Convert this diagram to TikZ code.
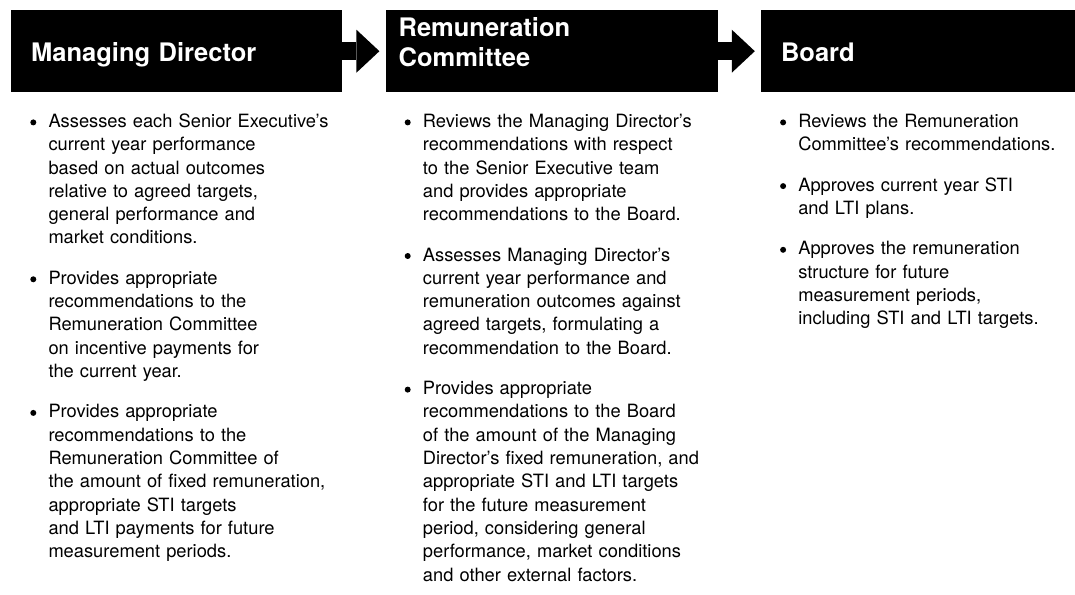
\documentclass[tikz,border=0pt]{standalone}
\usepackage{fontspec}
\setmainfont{TeX Gyre Heros}
\usetikzlibrary{positioning,arrows.meta}

\tikzset{
  head/.style={fill=black,minimum height=82pt,inner sep=0pt,anchor=north west},
  title/.style={text=white,font=\bfseries\fontsize{25.5}{30}\selectfont,text width=290pt,inner sep=0pt,anchor=base west,align=left},
  point/.style={font=\fontsize{18.3}{23.3}\selectfont,text width=300pt,align=left,inner sep=0pt,
    execute at begin node=\strut,execute at end node=\strut},
  flow/.style={line width=18pt,-{Triangle[length=23pt,width=43pt,line width=0pt]}},
}

\begin{document}
\begin{tikzpicture}[x=1pt,y=-1pt,node distance=43pt]
  \useasboundingbox (0,0) rectangle (1075,594);
  % header boxes
  \node[head,minimum width=331pt] (md)          at (11,10)     {};
  \node[head,minimum width=332pt] (rc)          [right=of md]  {};
  \node[head,minimum width=315pt] (bd)          [right=of rc]  {};
  \node[title] (md_t) at ([shift={(20,52)}]md.north west) {Managing Director};
  \node[title] (rc_t) at ([shift={(13,27)}]rc.north west) {Remuneration\\Committee};
  \node[title] (bd_t) at ([shift={(20,52)}]bd.north west) {Board};
  \draw[flow] (md.east) -- ([xshift=-6pt]rc.west);
  \draw[flow] (rc.east) -- ([xshift=-6pt]bd.west);
  % Managing Director
  \node[point,anchor=base west] (md_1) at ([shift={(37.3,35)}]md.south west)
    {Assesses each Senior Executive's\\current year performance\\based on actual outcomes\\relative to agreed targets,\\general performance and\\market conditions.};
  \node[point] (md_2) [below=16.7pt of md_1]
    {Provides appropriate\\recommendations to the\\Remuneration Committee\\on incentive payments for\\the current year.};
  \node[point] (md_3) [below=16.7pt of md_2]
    {Provides appropriate\\recommendations to the\\Remuneration Committee of\\the amount of fixed remuneration,\\appropriate STI targets\\and LTI payments for future\\measurement periods.};
  % Remuneration Committee
  \node[point,anchor=base west] (rc_1) at ([shift={(37.3,35)}]rc.south west)
    {Reviews the Managing Director's\\recommendations with respect\\to the Senior Executive team\\and provides appropriate\\recommendations to the Board.};
  \node[point] (rc_2) [below=16.7pt of rc_1]
    {Assesses Managing Director's\\current year performance and\\remuneration outcomes against\\agreed targets, formulating a\\recommendation to the Board.};
  \node[point] (rc_3) [below=16.7pt of rc_2]
    {Provides appropriate\\recommendations to the Board\\of the amount of the Managing\\Director's fixed remuneration, and\\appropriate STI and LTI targets\\for the future measurement\\period, considering general\\performance, market conditions\\and other external factors.};
  % Board
  \node[point,text width=270pt,anchor=base west] (bd_1) at ([shift={(37.3,35)}]bd.south west)
    {Reviews the Remuneration\\Committee's recommendations.};
  \node[point,text width=270pt] (bd_2) [below=16.7pt of bd_1]
    {Approves current year STI\\and LTI plans.};
  \node[point,text width=270pt] (bd_3) [below=16.7pt of bd_2]
    {Approves the remuneration\\structure for future\\measurement periods,\\including STI and LTI targets.};
  \foreach \n in {md_1,md_2,md_3,rc_1,rc_2,rc_3,bd_1,bd_2,bd_3}
    \fill ([shift={(-15,-5)}]\n.base west) circle (3);
\end{tikzpicture}
\end{document}
